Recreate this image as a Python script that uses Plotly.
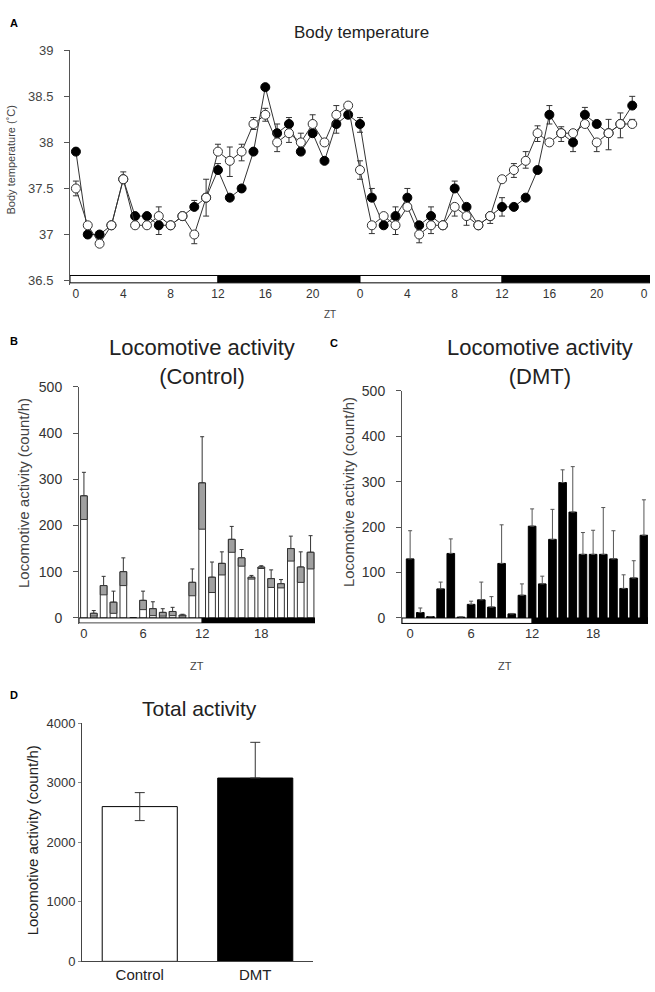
import plotly.graph_objects as go

W, H = 655, 992
FONT = "Arial, Liberation Sans, sans-serif"

# --- A: body temperature, hourly over two days ---
hours_a = list(range(48))
temp_filled = [37.9, 37.0, 37.0, 37.1, 37.6, 37.2, 37.2, 37.1, 37.1, 37.2, 37.3, 37.4,
               37.7, 37.4, 37.5, 37.9, 38.6, 38.1, 38.2, 37.9, 38.1, 37.8, 38.2, 38.3,
               38.2, 37.4, 37.1, 37.2, 37.4, 37.1, 37.2, 37.1, 37.5, 37.3, 37.1, 37.2,
               37.3, 37.3, 37.4, 37.7, 38.3, 38.1, 38.0, 38.3, 38.2, 38.1, 38.2, 38.4]
temp_open = [37.5, 37.1, 36.9, 37.1, 37.6, 37.1, 37.1, 37.2, 37.1, 37.2, 37.0, 37.4,
             37.9, 37.8, 37.9, 38.2, 38.3, 38.0, 38.1, 38.0, 38.2, 38.0, 38.3, 38.4,
             37.7, 37.1, 37.2, 37.1, 37.3, 37.0, 37.1, 37.1, 37.3, 37.2, 37.1, 37.2,
             37.6, 37.7, 37.8, 38.1, 38.0, 38.1, 38.1, 38.2, 38.0, 38.1, 38.2, 38.2]
filled_up = [0, 0, 0, 0, 0, 0, 0, 0, 0, 0, 0.07, 0,
             0.07, 0, 0, 0, 0, 0.1, 0.07, 0, 0, 0, 0, 0,
             0.07, 0.1, 0, 0.1, 0.1, 0, 0.1, 0, 0.08, 0, 0, 0,
             0.1, 0, 0, 0, 0.1, 0, 0, 0.08, 0, 0, 0, 0.1]
filled_down = [0, 0, 0, 0, 0, 0, 0, 0.1, 0, 0, 0, 0,
               0, 0, 0, 0, 0, 0, 0, 0, 0, 0, 0.1, 0,
               0.09, 0, 0, 0, 0, 0, 0, 0, 0, 0, 0, 0,
               0.1, 0, 0, 0, 0.1, 0, 0.1, 0, 0, 0, 0, 0]
open_up = [0.08, 0, 0, 0, 0.08, 0, 0, 0.1, 0, 0, 0, 0.2,
           0.08, 0.15, 0.08, 0.07, 0.07, 0, 0, 0.1, 0.1, 0, 0.1, 0,
           0.1, 0, 0, 0, 0, 0, 0, 0, 0, 0, 0, 0,
           0, 0.07, 0.1, 0.08, 0, 0.07, 0, 0, 0, 0.15, 0.12, 0.05]
open_down = [0.08, 0, 0, 0, 0, 0, 0, 0, 0, 0, 0.1, 0.2,
             0, 0.17, 0.1, 0.06, 0.07, 0.1, 0.1, 0, 0, 0, 0, 0,
             0.1, 0.09, 0, 0.1, 0, 0.09, 0.09, 0, 0.1, 0.1, 0, 0.08,
             0, 0.08, 0.08, 0.09, 0, 0.09, 0, 0, 0.1, 0.18, 0.15, 0]
zt_a_ticks = list(range(0, 49, 4))
zt_a_labels = ["0", "4", "8", "12", "16", "20", "0", "4", "8", "12", "16", "20", "0"]
temp_ticks = [36.5, 37, 37.5, 38, 38.5, 39]
temp_labels = ["36.5", "37", "37.5", "38", "38.5", "39"]
ld_a = ["light", "dark", "light", "dark"]

# --- B / C: hourly locomotive activity ---
hours_b = list(range(24))
ctrl_mean = [264, 10, 70, 34, 100, 0, 38, 20, 12, 14, 6, 77,
             292, 88, 118, 170, 130, 88, 110, 85, 74, 150, 110, 142]
ctrl_se = [51, 6, 20, 24, 30, 0, 20, 15, 8, 9, 2, 29,
           100, 33, 25, 28, 18, 4, 3, 19, 9, 27, 33, 36]
dmt_mean = [130, 12, 3, 64, 142, 2, 30, 40, 24, 120, 9, 50,
            202, 75, 173, 298, 233, 140, 140, 140, 130, 65, 88, 182]
dmt_se = [62, 10, 0, 15, 32, 0, 7, 39, 23, 85, 1, 25,
          38, 17, 66, 28, 100, 48, 53, 103, 62, 30, 38, 78]
zt_b_ticks = [0, 6, 12, 18]
ld_b = ["light", "dark"]

# --- D: total activity ---
groups = ["Control", "DMT"]
total_mean = [2600, 3080]
total_se = [235, 600]
total_fill = ["white", "black"]


def px_x(p):
    return p / W


def px_y(p):
    return 1 - p / H


fig = go.Figure()

# A
fig.add_trace(go.Scatter(
    x=hours_a, y=temp_filled, mode="lines+markers", xaxis="x", yaxis="y",
    line=dict(color="#333", width=1),
    marker=dict(size=9, color="black", line=dict(color="black", width=1)),
    error_y=dict(type="data", symmetric=False, array=filled_up, arrayminus=filled_down,
                 color="#333", thickness=1, width=3),
))
fig.add_trace(go.Scatter(
    x=hours_a, y=temp_open, mode="lines+markers", xaxis="x", yaxis="y",
    line=dict(color="#333", width=1),
    marker=dict(size=9, color="white", line=dict(color="#333", width=1)),
    error_y=dict(type="data", symmetric=False, array=open_up, arrayminus=open_down,
                 color="#333", thickness=1, width=3),
))

# B
fig.add_trace(go.Bar(
    x=hours_b, y=ctrl_mean, width=0.68, xaxis="x2", yaxis="y2",
    marker=dict(color="white", line=dict(color="#333", width=1)),
    error_y=dict(type="data", symmetric=False, array=ctrl_se,
                 arrayminus=[0] * len(ctrl_se), color="#333", thickness=1, width=2),
))
fig.add_trace(go.Bar(
    x=hours_b, y=ctrl_se, base=[m - s for m, s in zip(ctrl_mean, ctrl_se)],
    width=0.68, xaxis="x2", yaxis="y2",
    marker=dict(color="#a0a0a0", line=dict(color="#333", width=1)),
))

# C
fig.add_trace(go.Bar(
    x=hours_b, y=dmt_mean, width=0.75, xaxis="x3", yaxis="y3",
    marker=dict(color="black", line=dict(color="black", width=1)),
    error_y=dict(type="data", symmetric=False, array=dmt_se,
                 arrayminus=[0] * len(dmt_se), color="#555", thickness=1, width=2),
))

# D (lower whisker only shows on the white bar)
fig.add_trace(go.Bar(
    x=groups, y=total_mean, width=0.65, xaxis="x4", yaxis="y4",
    marker=dict(color=total_fill, line=dict(color="black", width=1)),
    error_y=dict(type="data", symmetric=False, array=total_se,
                 arrayminus=[s if f == "white" else 0 for s, f in zip(total_se, total_fill)],
                 color="#333", thickness=1, width=5),
))

A_RANGE = [-0.5, 48.5]
B_RANGE = [-0.5, 23.45]
C_RANGE = [-0.8, 23.4]

# light/dark strips
shapes = []
for i, phase in enumerate(ld_a):
    x0 = A_RANGE[0] if i == 0 else i * 12
    x1 = A_RANGE[1] if i == len(ld_a) - 1 else (i + 1) * 12
    shapes.append(dict(type="rect", xref="x", yref="y", x0=x0, x1=x1, y0=36.475, y1=36.555,
                       fillcolor="white" if phase == "light" else "black",
                       line=dict(color="black", width=1)))
for xa, ya, rng, yb in [("x2", "y2", B_RANGE, -11), ("x3", "y3", C_RANGE, -12)]:
    for i, phase in enumerate(ld_b):
        x0 = rng[0] if i == 0 else i * 12
        x1 = rng[1] if i == len(ld_b) - 1 else (i + 1) * 12
        shapes.append(dict(type="rect", xref=xa, yref=ya, x0=x0, x1=x1, y0=yb, y1=0,
                           fillcolor="white" if phase == "light" else "black",
                           line=dict(color="black", width=1)))

annotations = []


def note(text, x, y, size, bold=False, angle=0, color="#222"):
    annotations.append(dict(
        text=f"<b>{text}</b>" if bold else text, xref="paper", yref="paper",
        x=px_x(x), y=px_y(y), xanchor="center", yanchor="middle", showarrow=False,
        textangle=angle, font=dict(family=FONT, size=size, color=color)))


note("A", 14, 15, 11, bold=True, color="black")
note("B", 14, 338, 11, bold=True, color="black")
note("C", 334, 340, 11, bold=True, color="black")
note("D", 14, 698, 11, bold=True, color="black")
note("Body temperature", 361, 25, 17)
note("Locomotive activity<br>(Control)", 202, 360, 22)
note("Locomotive activity<br>(DMT)", 540, 360, 22)
note("Total activity", 199, 712, 21)
note("Body temperature (˚C)", 10, 155, 11, angle=-90, color="#444")
note("Locomotive activity (count/h)", 23, 493, 15, angle=-90, color="#444")
note("Locomotive activity (count/h)", 348, 492, 15, angle=-90, color="#444")
note("Locomotive activity (count/h)", 32, 846, 15, angle=-90, color="#222")
note("ZT", 330, 312, 10, color="#444")
note("ZT", 197, 669, 11, color="#444")
note("ZT", 505, 669, 11, color="#444")

common_x = dict(showgrid=False, zeroline=False, showline=False, ticks="")
common_y = dict(showgrid=False, zeroline=False, showline=True, linecolor="#555",
                linewidth=1, ticks="outside", ticklen=5, tickcolor="#555")

fig.update_layout(
    width=W, height=H, margin=dict(l=0, r=0, t=0, b=0),
    paper_bgcolor="white", plot_bgcolor="white", showlegend=False,
    barmode="overlay", font=dict(family=FONT, color="#333"),
    shapes=shapes, annotations=annotations,
    xaxis=dict(domain=[px_x(70), px_x(650)], range=A_RANGE, anchor="y",
               tickvals=zt_a_ticks, ticktext=zt_a_labels,
               tickfont=dict(size=12, color="#333"), **common_x),
    yaxis=dict(domain=[px_y(281.7), px_y(43)], range=[36.45, 39.0], anchor="x",
               tickvals=temp_ticks, ticktext=temp_labels, ticklabelstandoff=8,
               tickfont=dict(size=13, color="#444"), **common_y),
    xaxis2=dict(domain=[px_x(79), px_x(315)], range=B_RANGE, anchor="y2",
                tickvals=zt_b_ticks, tickfont=dict(size=13, color="#333"), **common_x),
    yaxis2=dict(domain=[px_y(625.6), px_y(385)], range=[-12, 500], anchor="x2",
                tickvals=[0, 100, 200, 300, 400, 500], ticklabelstandoff=8,
                tickfont=dict(size=14, color="#333"), **common_y),
    xaxis3=dict(domain=[px_x(402), px_x(648)], range=C_RANGE, anchor="y3",
                tickvals=zt_b_ticks, tickfont=dict(size=13, color="#333"), **common_x),
    yaxis3=dict(domain=[px_y(626), px_y(389)], range=[-13, 500], anchor="x3",
                tickvals=[0, 100, 200, 300, 400, 500], ticklabelstandoff=8,
                tickfont=dict(size=14, color="#333"), **common_y),
    xaxis4=dict(domain=[px_x(82), px_x(313)], range=[-0.5, 1.5], anchor="y4",
                type="category", showgrid=False, zeroline=False, showline=True,
                linecolor="#444", linewidth=1, ticks="",
                tickfont=dict(size=15, color="#222")),
    yaxis4=dict(domain=[px_y(969), px_y(727)], range=[0, 4000], anchor="x4",
                tickvals=[0, 1000, 2000, 3000, 4000], showgrid=False, zeroline=False,
                showline=True, linecolor="#444", linewidth=1, ticks="outside",
                ticklen=3, tickcolor="#888", tickfont=dict(size=13, color="#333")),
)

# drop the browser's default body margin so the 655x992 figure fills the window
fig.write_html("out.html", config={"displayModeBar": False},
               post_script="document.body.style.margin = '0';")
